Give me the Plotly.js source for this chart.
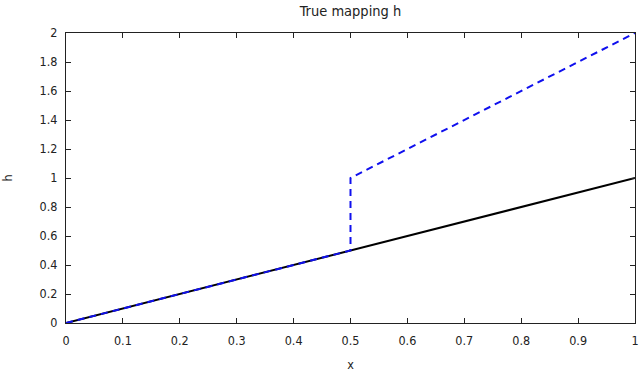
<!DOCTYPE html>
<html><head><meta charset="utf-8">
<script src="https://cdn.plot.ly/plotly-3.0.1.min.js"></script>
<style>html,body{margin:0;padding:0;background:#fff}#chart{width:640px;height:372px}</style>
</head><body><div id="chart"></div>
<script>
const trueX = [0, 1];
const trueH = [0, 1];
const mapX = [0, 0.5, 0.5, 1];
const mapH = [0, 0.5, 1, 2];
const xTicks = [0, 0.1, 0.2, 0.3, 0.4, 0.5, 0.6, 0.7, 0.8, 0.9, 1];
const yTicks = [0, 0.2, 0.4, 0.6, 0.8, 1, 1.2, 1.4, 1.6, 1.8, 2];

const font = {family: 'DejaVu Sans Condensed, DejaVu Sans, sans-serif', size: 12.5, color: '#222'};
const titleFont = {family: 'DejaVu Sans Condensed, DejaVu Sans, sans-serif', size: 14.5, color: '#222'};
const data = [
  {x: trueX, y: trueH, mode: 'lines', line: {color: '#000', width: 2}, showlegend: false},
  {x: mapX, y: mapH, mode: 'lines', line: {color: '#1010ee', width: 2, dash: '7px,5px'}, showlegend: false}
];
const axisCommon = {showline: true, linecolor: '#222', linewidth: 1, mirror: 'ticks', ticks: 'inside', ticklen: 5, tickcolor: '#222', showgrid: false, zeroline: false, tickfont: font};
const layout = {
  width: 640, height: 372,
  margin: {l: 66, r: 5, t: 33, b: 49},
  paper_bgcolor: '#fff', plot_bgcolor: '#fff',
  font: font,
  title: {text: 'True mapping h', font: titleFont, x: 0.5, xref: 'paper', y: 1 - 11/372, yref: 'container', yanchor: 'middle'},
  xaxis: Object.assign({}, axisCommon, {range: [0, 1], tickvals: xTicks, ticktext: xTicks.map(String), ticklabelstandoff: 6, title: {text: 'x', font: font, standoff: 15}}),
  yaxis: Object.assign({}, axisCommon, {range: [0, 2], tickvals: yTicks, ticktext: yTicks.map(String), ticklabelstandoff: 5, title: {text: 'h', font: font, standoff: 24}})
};
Plotly.newPlot('chart', data, layout, {displayModeBar: false, staticPlot: true});
</script></body></html>
